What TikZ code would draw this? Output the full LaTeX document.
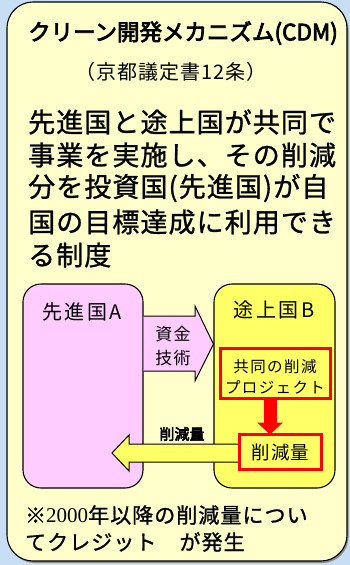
\documentclass[tikz,border=0pt]{standalone}
\usepackage{fontspec}
\setmainfont{Noto Sans CJK JP}
\newfontfamily\jpbold[FakeBold=3.5]{Noto Sans CJK JP}
\newfontfamily\jpmed[FakeBold=1]{Noto Sans CJK JP}
\newfontfamily\serifnum{Liberation Serif}
\usetikzlibrary{arrows.meta,calc}
\definecolor{bgblue}{RGB}{200,222,245}
\definecolor{paleyel}{RGB}{255,255,204}
\definecolor{pinkfill}{RGB}{255,204,255}
\definecolor{yelfill}{RGB}{255,255,102}
\definecolor{redline}{RGB}{255,0,0}
\tikzset{
  country/.style={draw=black, line width=1.1pt, rounded corners=18pt, minimum width=#1, minimum height=204pt, inner sep=0pt},
  redbox/.style={draw=redline, line width=3pt, fill=yelfill, inner sep=0pt, outer sep=0pt},
  blockarrow/.style={draw=black, line width=1pt, line join=miter},
  lbl/.style={inner sep=0pt, text=black}
}
\begin{document}
\begin{tikzpicture}[x=1pt,y=-1pt]
\useasboundingbox (0,0) rectangle (350,565);
\fill[bgblue] (0,0) rectangle (350,565);
% shadow and outer panel
\fill[black!45, rounded corners=26pt] (8.5,4) rectangle (348.5,563);
\draw[fill=paleyel, line width=1.1pt, rounded corners=26pt] (7,2) rectangle (347,561);
% title
\node[lbl] (title) at (183,33) {\jpbold\fontsize{22.5}{26}\selectfont クリーン開発メカニズム(CDM)};
\node[lbl] (sub) at (171,72) {\addfontfeature{LetterSpace=5}\fontsize{20}{24}\selectfont （京都議定書12条）};
% main text
\begin{scope}[every node/.style={lbl, anchor=west, font=\jpmed\fontsize{27}{30}\selectfont}]
\node (t1) at (28,122) {\addfontfeature{LetterSpace=4}先進国と途上国が共同で};
\node (t2) at (28,155) {\addfontfeature{LetterSpace=4}事業を実施し、その削減};
\node (t3) at (28,188) {\addfontfeature{LetterSpace=4}分を投資国(先進国)が自};
\node (t4) at (28,222) {\addfontfeature{LetterSpace=4}国の目標達成に利用でき};
\node (t5) at (28,255) {\addfontfeature{LetterSpace=4}る制度};
\end{scope}
% country boxes
\node[country=120pt, fill=pinkfill] (A) at (83,386) {};
\node[country=121pt, fill=yelfill] (B) at (274.5,386) {};
\node[lbl, font=\fontsize{20}{22}\selectfont] (Alab) at (82,312) {\addfontfeature{LetterSpace=12}先進国A};
\node[lbl, font=\fontsize{20}{22}\selectfont] (Blab) at (274,310) {\addfontfeature{LetterSpace=12}途上国B};
% pink block arrow: funds & technology
\draw[blockarrow, fill=pinkfill] (A.east |- 0,316) -- (195,316) -- (195,306) -- (B.west |- 0,344) -- (195,381) -- (195,371) -- (A.east |- 0,371);
\node[lbl, font=\fontsize{17}{20}\selectfont] (fund) at (173,334) {\addfontfeature{LetterSpace=8}資金};
\node[lbl, font=\fontsize{17}{20}\selectfont] (tech) at (173,358) {\addfontfeature{LetterSpace=8}技術};
% project and reductions
\node[redbox, minimum width=110pt, minimum height=50pt] (proj) at (275.5,373.5) {};
\node[lbl, font=\fontsize{15.5}{18}\selectfont] (p1) at (275,367) {\addfontfeature{LetterSpace=9}共同の削減};
\node[lbl, font=\fontsize{15.5}{18}\selectfont] (p2) at (275,387) {\addfontfeature{LetterSpace=9}プロジェクト};
% yellow block arrow: credits back to A
\draw[blockarrow, fill=yelfill] (240,444) -- (129,444) -- (129,435) -- (112,453) -- (129,471) -- (129,462) -- (240,462);
\node[redbox, minimum width=82pt, minimum height=35pt] (cut) at (280.5,452) {};
\node[lbl, font=\fontsize{18.5}{21}\selectfont] (cutlab) at (280.5,452) {\addfontfeature{LetterSpace=5}削減量};
\coordinate (ax) at (270,0);
\draw[redline, line width=13pt, -{Triangle[length=12pt,width=25pt]}] (proj.south -| ax) -- (cut.north -| ax);
\node[lbl] (credit) at (182,434) {\jpbold\fontsize{15}{18}\selectfont 削減量};
% footnote
\begin{scope}[every node/.style={lbl, anchor=west, font=\jpmed\fontsize{21}{25}\selectfont}]
\node (f1) at (25,515) {\addfontfeature{LetterSpace=5}※{\serifnum 2000}年以降の削減量につい};
\node (f2) at (25,542) {\addfontfeature{LetterSpace=5}てクレジット　が発生};
\end{scope}
\end{tikzpicture}
\end{document}
